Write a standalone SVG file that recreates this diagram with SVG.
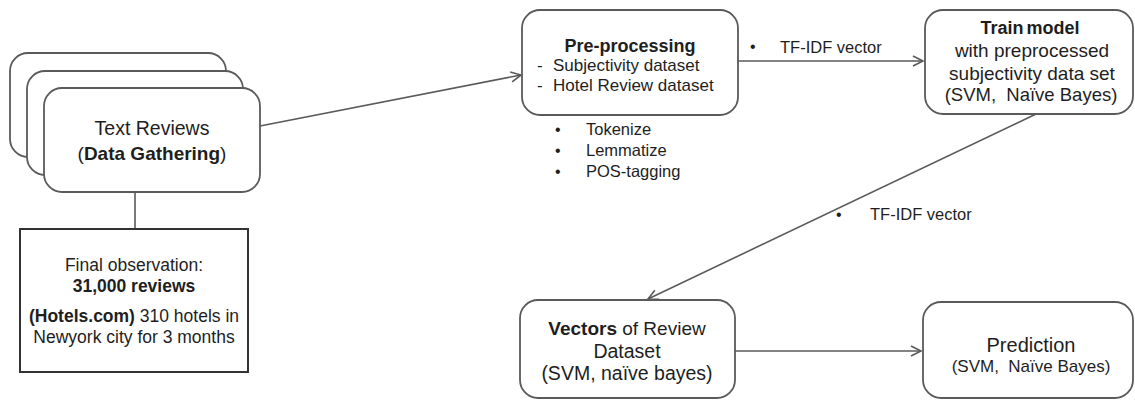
<svg xmlns="http://www.w3.org/2000/svg" width="1135" height="401" viewBox="0 0 1135 401">
<defs>
<style>
.box{fill:#fff;stroke:#5a5a5a;stroke-width:1.8}
.sq{fill:#fff;stroke:#333;stroke-width:2}
.ln{fill:none;stroke:#5a5a5a;stroke-width:1.6}
text{font-family:"Liberation Sans",Arial,sans-serif;fill:#1e1e1e}
.c{text-anchor:middle}
.b{font-weight:bold}
</style>
<marker id="arr" markerUnits="userSpaceOnUse" markerWidth="14" markerHeight="14" refX="11" refY="6" orient="auto" viewBox="0 0 14 12">
<path d="M1,1 L11,6 L1,11" fill="none" stroke="#5a5a5a" stroke-width="1.6"/>
</marker>
</defs>
<rect width="1135" height="401" fill="#fff"/>
<g id="connectors">
<line class="ln" x1="260" y1="126" x2="521" y2="75" marker-end="url(#arr)"/>
<line class="ln" x1="135" y1="192" x2="135" y2="229"/>
<line class="ln" x1="738" y1="61" x2="923" y2="61" marker-end="url(#arr)"/>
<line class="ln" x1="1036" y1="114" x2="648" y2="299" marker-end="url(#arr)"/>
<line class="ln" x1="735" y1="351" x2="921" y2="351" marker-end="url(#arr)"/>
<text x="750" y="52" font-size="16">•</text>
<text x="780" y="53" font-size="16.5">TF-IDF vector</text>
<text x="836" y="220" font-size="16">•</text>
<text x="870" y="220" font-size="16.5">TF-IDF vector</text>
</g>
<g id="text-reviews">
<rect class="box" x="10" y="53" width="216" height="104" rx="18"/>
<rect class="box" x="27" y="71" width="216" height="104" rx="18"/>
<rect class="box" x="44" y="88" width="216" height="104" rx="18"/>
<text class="c" x="152" y="135" font-size="19.5">Text Reviews</text>
<text class="c" x="152" y="160" font-size="19">(<tspan class="b">Data Gathering</tspan>)</text>
</g>
<g id="final-observation">
<rect class="sq" x="20" y="229" width="228" height="143"/>
<text class="c" x="134" y="271" font-size="17.5">Final observation:</text>
<text class="c b" x="134" y="292" font-size="17.5">31,000 reviews</text>
<text class="c" x="134" y="322" font-size="17.5"><tspan class="b">(Hotels.com)</tspan> 310 hotels in</text>
<text class="c" x="134" y="343" font-size="17.5">Newyork city for 3 months</text>
</g>
<g id="pre-processing">
<rect class="box" x="522" y="10" width="216" height="105" rx="18"/>
<text class="c b" x="630" y="52" font-size="18">Pre-processing</text>
<text x="537" y="71" font-size="17">-<tspan x="553">Subjectivity dataset</tspan></text>
<text x="537" y="91" font-size="17">-<tspan x="553">Hotel Review dataset</tspan></text>
<text x="555" y="135" font-size="16">•</text>
<text x="586" y="135" font-size="16.5">Tokenize</text>
<text x="555" y="156" font-size="16">•</text>
<text x="586" y="156" font-size="16.5">Lemmatize</text>
<text x="555" y="177" font-size="16">•</text>
<text x="586" y="177" font-size="16.5">POS-tagging</text>
</g>
<g id="train-model">
<rect class="box" x="925" y="10" width="208" height="104" rx="18"/>
<text class="c b" x="1030" y="34" font-size="18" word-spacing="-2">Train model</text>
<text class="c" x="1032" y="57" font-size="19">with preprocessed</text>
<text class="c" x="1032" y="80" font-size="19">subjectivity data set</text>
<text class="c" x="1031" y="101" font-size="18.5">(SVM,&#160; Naïve Bayes)</text>
</g>
<g id="vectors">
<rect class="box" x="520" y="300" width="215" height="98" rx="18"/>
<text class="c" x="627" y="335" font-size="19"><tspan class="b">Vectors</tspan> of Review</text>
<text class="c" x="627" y="358" font-size="19.5">Dataset</text>
<text class="c" x="627" y="380" font-size="19.5">(SVM, naïve bayes)</text>
</g>
<g id="prediction">
<rect class="box" x="923" y="302" width="210" height="96" rx="18"/>
<text class="c" x="1031" y="352" font-size="20">Prediction</text>
<text class="c" x="1031" y="372" font-size="17">(SVM,&#160; Naïve Bayes)</text>
</g>
</svg>
